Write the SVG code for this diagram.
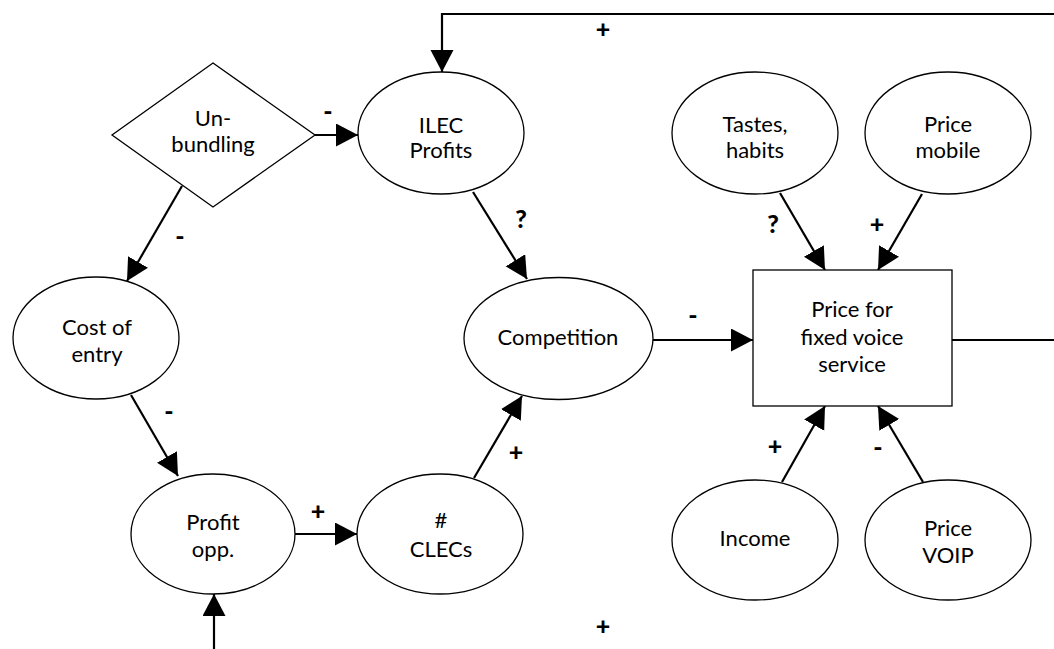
<svg xmlns="http://www.w3.org/2000/svg" width="1054" height="649" viewBox="0 0 1054 649">
<style>
.shape{fill:#fff;stroke:#000;stroke-width:1.3}
.lbl{font-family:Lato,"Open Sans",sans-serif;font-size:22px;fill:#000;text-anchor:middle}
.sign{font-family:Lato,"Open Sans",sans-serif;font-size:25px;font-weight:900;fill:#000;text-anchor:middle}
.con{fill:none;stroke:#000;stroke-width:2.2}
</style>
<defs>
<marker id="ah" markerUnits="userSpaceOnUse" markerWidth="24" markerHeight="24" refX="22" refY="11.5" orient="auto">
<path d="M0,0 L22,11.5 L0,23 Z" fill="#000"/>
</marker>
</defs>
<rect width="1054" height="649" fill="#fff"/>
<g id="connectors">
<path class="con" d="M1054,14 H442 V72" marker-end="url(#ah)"/>
<path class="con" d="M315,135 H358" marker-end="url(#ah)"/>
<path class="con" d="M182,186 L127,281" marker-end="url(#ah)"/>
<path class="con" d="M473,192 L527,279" marker-end="url(#ah)"/>
<path class="con" d="M131,395 L178,476" marker-end="url(#ah)"/>
<path class="con" d="M295,534 H357" marker-end="url(#ah)"/>
<path class="con" d="M474,478 L522,396" marker-end="url(#ah)"/>
<path class="con" d="M653,340 H753" marker-end="url(#ah)"/>
<path class="con" d="M780,193 L825,270" marker-end="url(#ah)"/>
<path class="con" d="M922,194 L878,270" marker-end="url(#ah)"/>
<path class="con" d="M782,482 L825,406" marker-end="url(#ah)"/>
<path class="con" d="M923,482 L878,406" marker-end="url(#ah)"/>
<path class="con" d="M952,340 H1054"/>
<path class="con" d="M214,649 V594" marker-end="url(#ah)"/>
</g>
<g id="signs">
<text class="sign" x="603" y="38">+</text>
<text class="sign" x="603" y="635">+</text>
<text class="sign" x="328" y="120">-</text>
<text class="sign" x="180" y="245">-</text>
<text class="sign" x="521" y="228">?</text>
<text class="sign" x="169" y="420">-</text>
<text class="sign" x="318" y="520">+</text>
<text class="sign" x="516" y="461">+</text>
<text class="sign" x="693" y="324">-</text>
<text class="sign" x="773" y="233">?</text>
<text class="sign" x="877" y="233">+</text>
<text class="sign" x="775" y="455">+</text>
<text class="sign" x="878" y="456">-</text>
</g>
<g id="unbundling">
<polygon class="shape" points="213,63 315,135 213,207 112,135"/>
<text class="lbl" x="213" y="126">Un-</text>
<text class="lbl" x="213" y="152">bundling</text>
</g>
<g id="ilec-profits">
<ellipse class="shape" cx="441" cy="133" rx="83" ry="61"/>
<text class="lbl" x="441" y="133">ILEC</text>
<text class="lbl" x="441" y="158">Profits</text>
</g>
<g id="tastes-habits">
<ellipse class="shape" cx="755" cy="133" rx="83" ry="61"/>
<text class="lbl" x="755" y="132">Tastes,</text>
<text class="lbl" x="755" y="158">habits</text>
</g>
<g id="price-mobile">
<ellipse class="shape" cx="948" cy="133" rx="83" ry="61"/>
<text class="lbl" x="948" y="132">Price</text>
<text class="lbl" x="948" y="158">mobile</text>
</g>
<g id="cost-of-entry">
<ellipse class="shape" cx="96" cy="338" rx="83" ry="61"/>
<text class="lbl" x="97" y="335">Cost of</text>
<text class="lbl" x="97" y="362">entry</text>
</g>
<g id="competition">
<ellipse class="shape" cx="558.5" cy="338.5" rx="94.5" ry="61"/>
<text class="lbl" x="558" y="345">Competition</text>
</g>
<g id="price-fixed">
<rect class="shape" x="753" y="270" width="199" height="136"/>
<text class="lbl" x="852" y="317">Price for</text>
<text class="lbl" x="852" y="345">fixed voice</text>
<text class="lbl" x="852" y="372">service</text>
</g>
<g id="profit-opp">
<ellipse class="shape" cx="213" cy="534" rx="82" ry="60"/>
<text class="lbl" x="213" y="530">Profit</text>
<text class="lbl" x="213" y="557">opp.</text>
</g>
<g id="clecs">
<ellipse class="shape" cx="440" cy="534" rx="83" ry="60"/>
<text class="lbl" x="441" y="528">#</text>
<text class="lbl" x="441" y="557">CLECs</text>
</g>
<g id="income">
<ellipse class="shape" cx="755" cy="540" rx="83" ry="60"/>
<text class="lbl" x="755" y="546">Income</text>
</g>
<g id="price-voip">
<ellipse class="shape" cx="948" cy="540" rx="83" ry="60"/>
<text class="lbl" x="948" y="536">Price</text>
<text class="lbl" x="948" y="563">VOIP</text>
</g>
</svg>
